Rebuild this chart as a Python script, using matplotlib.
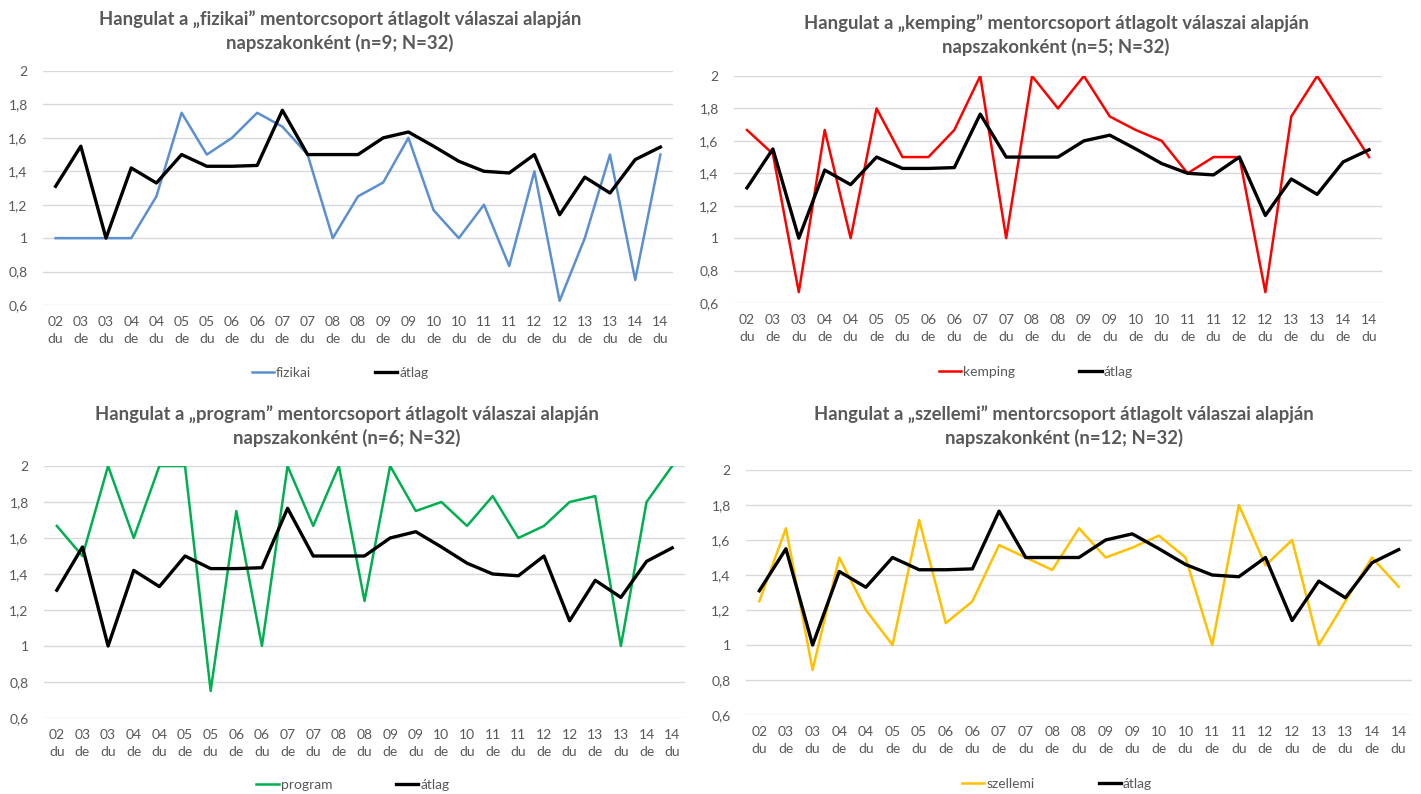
"""Hangulat mentorcsoportonként – négy vonaldiagram egy ábrán."""

import matplotlib

matplotlib.use("Agg")
import matplotlib.pyplot as plt
from matplotlib.ticker import FuncFormatter

plt.rcParams["font.family"] = ["Lato", "DejaVu Sans"]

CATEGORIES = ["02\ndu", "03\nde", "03\ndu", "04\nde", "04\ndu", "05\nde", "05\ndu",
              "06\nde", "06\ndu", "07\nde", "07\ndu", "08\nde", "08\ndu", "09\nde",
              "09\ndu", "10\nde", "10\ndu", "11\nde", "11\ndu", "12\nde", "12\ndu",
              "13\nde", "13\ndu", "14\nde", "14\ndu"]

atlag = [1.31, 1.55, 1.00, 1.42, 1.33, 1.50, 1.43, 1.43, 1.435, 1.765, 1.50, 1.50, 1.50,
         1.60, 1.635, 1.55, 1.46, 1.40, 1.39, 1.50, 1.14, 1.365, 1.27, 1.47, 1.545]
fizikai = [1.0, 1.0, 1.0, 1.0, 1.25, 1.75, 1.5, 1.6, 1.75, 1.667, 1.5, 1.0, 1.25,
           1.333, 1.6, 1.167, 1.0, 1.2, 0.833, 1.4, 0.625, 1.0, 1.5, 0.75, 1.5]
kemping = [1.667, 1.52, 0.667, 1.667, 1.0, 1.8, 1.5, 1.5, 1.667, 2.0, 1.0, 2.0, 1.8,
           2.0, 1.75, 1.667, 1.6, 1.4, 1.5, 1.5, 0.667, 1.75, 2.0, 1.75, 1.5]
program = [1.667, 1.5, 2.0, 1.6, 2.0, 2.0, 0.75, 1.75, 1.0, 2.0, 1.667, 2.0, 1.25,
           2.0, 1.75, 1.8, 1.667, 1.833, 1.6, 1.667, 1.8, 1.833, 1.0, 1.8, 2.0]
szellemi = [1.25, 1.667, 0.857, 1.5, 1.2, 1.0, 1.714, 1.125, 1.25, 1.571, 1.5, 1.429,
            1.667, 1.5, 1.556, 1.625, 1.5, 1.0, 1.8, 1.455, 1.6, 1.0, 1.25, 1.5, 1.333]

W, H = 1421, 794
GRAY = "#595959"

# név, adatok, szín, n, tengely (bal, felső, jobb, alsó px), cím (x, y), jelmagyarázat (x, y)
PANELS = [
    ("fizikai", fizikai, "#5B8FD0", 9, (43, 71, 673, 305), (340, 31), (340, 373)),
    ("kemping", kemping, "#FF0000", 5, (734, 76, 1382, 303), (1056, 35), (1036, 372)),
    ("program", program, "#00B050", 6, (44, 466, 685, 718), (347, 426), (353, 785)),
    ("szellemi", szellemi, "#FFC000", 12, (746, 470, 1412, 715), (1064, 426), (1057, 784)),
]


def fmt(v, _):
    s = f"{v:.1f}".rstrip("0").rstrip(".")
    return s.replace(".", ",")


fig = plt.figure(figsize=(W / 100, H / 100), dpi=100)

for name, values, color, n, (l, t, r, b), (tx, ty), (lx, ly) in PANELS:
    ax = fig.add_axes([l / W, 1 - b / H, (r - l) / W, (b - t) / H])
    x = range(len(CATEGORIES))
    ax.plot(x, values, color=color, lw=1.8, label=name)
    ax.plot(x, atlag, color="black", lw=2.4, label="átlag")
    ax.set_xlim(-0.5, len(CATEGORIES) - 0.5)
    ax.set_ylim(0.6, 2.0)
    ax.set_yticks([0.6, 0.8, 1.0, 1.2, 1.4, 1.6, 1.8, 2.0])
    ax.yaxis.set_major_formatter(FuncFormatter(fmt))
    ax.set_xticks(list(x), CATEGORIES, fontsize=10, color=GRAY, linespacing=1.5)
    ax.tick_params(axis="y", labelsize=10, labelcolor=GRAY, length=0, pad=11)
    ax.tick_params(axis="x", length=0, pad=8)
    ax.grid(axis="y", color="#D9D9D9", lw=1)
    ax.set_axisbelow(True)
    for sp in ax.spines.values():
        sp.set_visible(False)
    ax.legend(loc="center", bbox_to_anchor=(lx / W, 1 - ly / H),
              bbox_transform=fig.transFigure, ncol=2, frameon=False,
              fontsize=10, labelcolor=GRAY, handlelength=1.6, handletextpad=0.15,
              columnspacing=4.6)
    fig.text(tx / W, 1 - ty / H,
             f"Hangulat a \u201e{name}\u201d mentorcsoport átlagolt válaszai alapján\n"
             f"napszakonként (n={n}; N=32)",
             ha="center", va="center", fontsize=13.3, fontweight="bold", color=GRAY,
             linespacing=1.35)

fig.savefig("out.png", dpi=100)
